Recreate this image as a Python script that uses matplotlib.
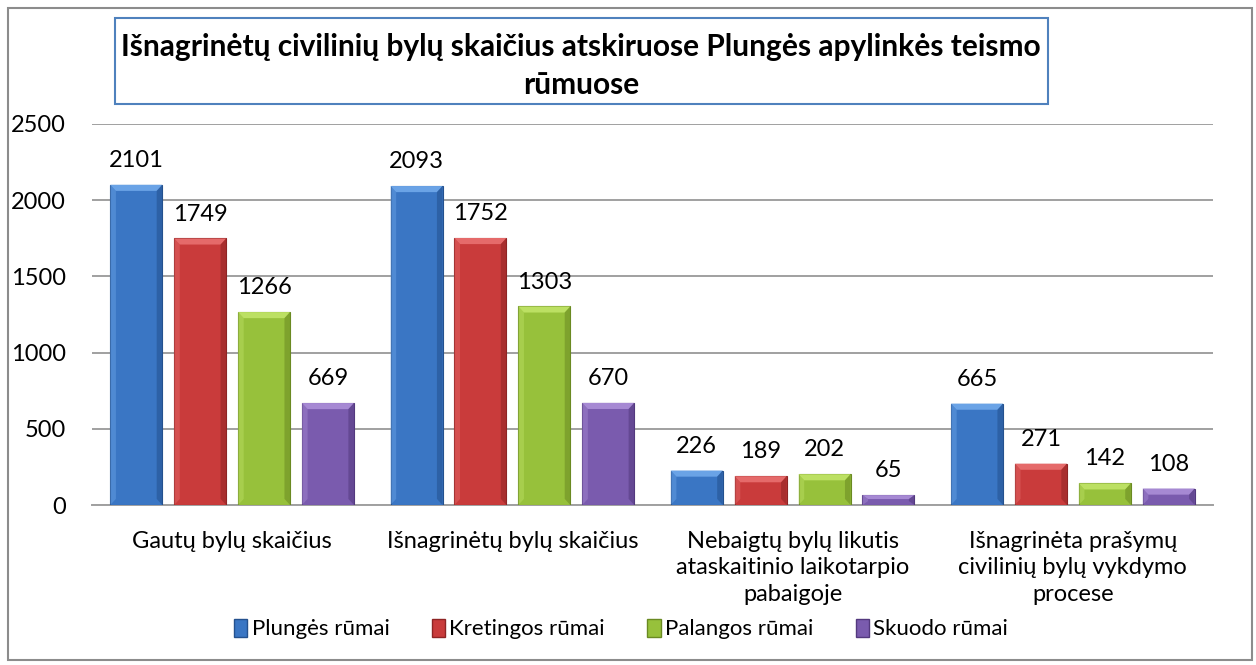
import matplotlib
matplotlib.use("Agg")
import matplotlib.pyplot as plt
from matplotlib.patches import Rectangle, Polygon
import numpy as np

plt.rcParams['font.family'] = ['Lato', 'DejaVu Sans']

categories = ["Gautų bylų skaičius", "Išnagrinėtų bylų skaičius",
              "Nebaigtų bylų likutis\nataskaitinio laikotarpio\npabaigoje",
              "Išnagrinėta prašymų\ncivilinių bylų vykdymo\nprocese"]
series_names = ["Plungės rūmai", "Kretingos rūmai", "Palangos rūmai", "Skuodo rūmai"]
plunges = [2101, 2093, 226, 665]
kretingos = [1749, 1752, 189, 271]
palangos = [1266, 1303, 202, 142]
skuodo = [669, 670, 65, 108]
yticks = [0, 500, 1000, 1500, 2000, 2500]
title = "Išnagrinėtų civilinių bylų skaičius atskiruose Plungės apylinkės teismo\nrūmuose"

series = [plunges, kretingos, palangos, skuodo]
colors = ["#3A76C4", "#C93B3B", "#97C13B", "#7A5BAE"]
light = ["#6AA3E6", "#E56A6A", "#BCE063", "#A689D3"]
dark = ["#24518E", "#8E2424", "#6A8A22", "#53397E"]

fig = plt.figure(figsize=(12.56, 6.65), dpi=100)
ax = fig.add_axes([92/1256, 1-505/665, (1213-92)/1256, (505-124)/665])

n = len(series)
spacing = 0.228
width = 0.1855
x = np.arange(len(categories))
ax.set_xlim(-0.5, len(categories) - 0.5)
ax.set_ylim(0, 2500)

FS = 17
bx = 0.02
for si, vals in enumerate(series):
    xs = x + (si - (n - 1) / 2) * spacing
    bars = ax.bar(xs, vals, width, color=colors[si], edgecolor=dark[si], linewidth=0.8, zorder=3)
    for xc, h in zip(xs, vals):
        x0, x1 = xc - width / 2, xc + width / 2
        by = min(40, h * 0.4)
        top = Polygon([(x0, h), (x1, h), (x1 - bx, h - by), (x0 + bx, h - by)], closed=True,
                      facecolor=light[si], edgecolor='none', zorder=4)
        left = Polygon([(x0, 0), (x0, h), (x0 + bx, h - by), (x0 + bx, min(by, h - by))], closed=True,
                       facecolor=light[si], alpha=0.45, edgecolor='none', zorder=4)
        right = Polygon([(x1, 0), (x1, h), (x1 - bx, h - by), (x1 - bx, min(by, h - by))], closed=True,
                        facecolor=dark[si], alpha=0.55, edgecolor='none', zorder=4)
        ax.add_patch(top); ax.add_patch(left); ax.add_patch(right)
        ax.annotate(str(h), (xc, h), xytext=(0, 10), textcoords='offset points',
                    ha='center', va='bottom', fontsize=FS, color='black', zorder=5)
    bars.set_label(series_names[si])

ax.set_yticks(yticks)
ax.set_yticklabels([str(t) for t in yticks], fontsize=FS)
ax.yaxis.grid(True, color='#A0A0A0', linewidth=1.4, zorder=0)
ax.set_axisbelow(True)
ax.tick_params(axis='y', length=0, pad=19)
ax.set_xticks(x)
ax.set_xticklabels(categories, fontsize=FS, linespacing=1.3)
ax.tick_params(axis='x', length=0, pad=19)
for s in ['top', 'right', 'left']:
    ax.spines[s].set_visible(False)
ax.spines['bottom'].set_color('#A0A0A0')
ax.spines['bottom'].set_linewidth(1.4)

handles = [Rectangle((0, 0), 1, 1, facecolor=colors[i], edgecolor=dark[i]) for i in range(n)]
fig.legend(handles, series_names, loc='center', bbox_to_anchor=(621/1256, 1-629/665), ncol=4,
           frameon=False, fontsize=16, handlelength=0.6, handleheight=0.9, handletextpad=0.2,
           columnspacing=1.9)

# title box
fig.patches.append(Rectangle((115/1256, 1-104/665), (1048-115)/1256, (104-18)/665,
                             transform=fig.transFigure, fill=False, edgecolor='#4F81BD', linewidth=1.5))
fig.text(581/1256, 1-66/665, title, ha='center', va='center', fontsize=21.5, fontweight='bold',
         linespacing=1.4)

# outer border
fig.patches.append(Rectangle((8/1256, 1-660/665), (1252-8)/1256, (660-8)/665,
                             transform=fig.transFigure, fill=False, edgecolor='#8C8C8C', linewidth=1.5))

fig.savefig("out.png", dpi=100)
